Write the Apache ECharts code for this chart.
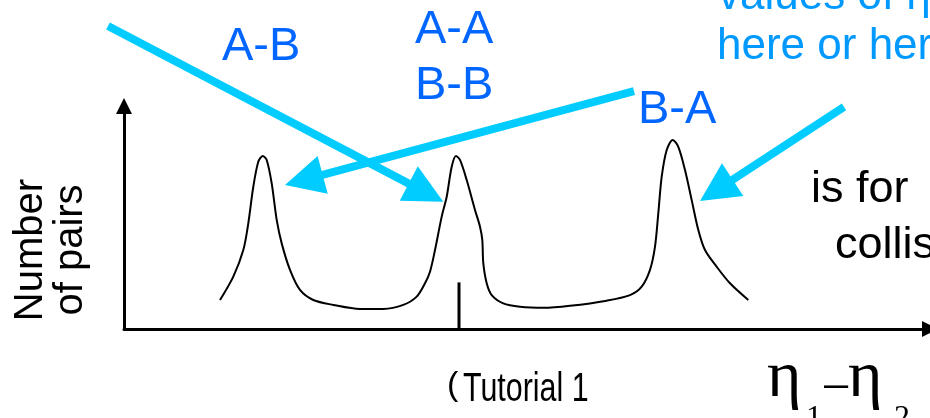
<!DOCTYPE html>
<html>
<head>
<meta charset="utf-8">
<script src="https://cdn.jsdelivr.net/npm/echarts@6/dist/echarts.min.js"></script>
<style>
html,body{margin:0;padding:0;background:#fff;}
#c{width:930px;height:418px;}
</style>
</head>
<body>
<div id="c"></div>
<script>
// ---- data (arbitrary units: x = eta1 - eta2, y = number of pairs) ----
const curveX = [-2.39,-2.257,-2.157,-2.107,-2.057,-2.007,-1.963,-1.923,-1.873,-1.823,-1.773,-1.69,-1.59,-1.457,-1.257,-0.99,-0.757,-0.557,-0.423,-0.34,-0.29,-0.24,-0.173,-0.123,-0.073,-0.03,0.01,0.077,0.16,0.21,0.233,0.243,0.277,0.327,0.443,0.61,0.843,1.11,1.477,1.71,1.827,1.91,1.96,1.993,2.027,2.077,2.137,2.193,2.26,2.327,2.393,2.46,2.577,2.71,2.893];
const curveY = [13.0,23.5,35.4,47.4,63.8,75.0,77.6,75.8,65.3,48.9,38.4,26.5,17.5,13.0,10.8,9.0,9.0,10.8,14.5,20.5,25.7,35.4,50.4,59.3,72.8,77.6,75.8,66.8,53.4,45.9,39.9,29.5,20.5,15.2,11.5,10.0,9.5,10.4,12.7,15.2,19.0,26.5,36.9,51.9,68.3,80.3,84.8,81.7,71.3,57.8,44.4,35.4,27.9,20.5,13.0];
const tickX = [0, 0];
const tickY = [0, 20.9];
const arrowStart = [[-3.51, 135.9], [1.75, 106.7], [3.85, 99.6]];
const arrowTip   = [[-0.157, 57.1], [-1.74, 64.6], [2.41, 57.4]];
const pairLabels = ['A-B', 'A-A', 'B-B', 'B-A'];
const noteLines = ['values of η(', 'here or here'];
const sideLines = ['is for', 'collis'];
const yTitle = ['Number', 'of pairs'];
const xNote = ['(', 'Tutorial 1'];
const xTitle = ['η', '1', '−', 'η', '2'];

const SANS = "'Liberation Sans', Arial, sans-serif";
const SERIF = "'Liberation Serif', 'Times New Roman', serif";
const BLUE = '#0066ff', LBLUE = '#0099ff', CYAN = '#00ccff';
const headLen = 39;

function txt(text, x, y, size, color, opts) {
  opts = opts || {};
  return {
    type: 'text', x: x, y: y, rotation: opts.rotation || 0, scaleX: opts.scaleX || 1, silent: true,
    style: {
      text: text, fill: color, fontSize: size, fontFamily: opts.family || SANS,
      align: opts.align || 'left', verticalAlign: 'middle'
    }
  };
}

const chart = echarts.init(document.getElementById('c'), null, {renderer: 'canvas'});
const hidden = {show: false};
const option = {
  animation: false,
  backgroundColor: '#fff',
  grid: [
    {left: 124, right: 0, top: 106, bottom: 89},
    {left: 0, right: 0, top: 0, bottom: 0}
  ],
  xAxis: [
    {type: 'value', gridIndex: 0, min: -3.35, max: 4.71,
     axisLine: {show: true, onZero: false, lineStyle: {color: '#000', width: 3}, symbol: ['none', 'triangle'], symbolSize: [16, 16]},
     axisTick: hidden, axisLabel: hidden, splitLine: hidden},
    {type: 'value', gridIndex: 1, min: -4.59, max: 4.71, show: false}
  ],
  yAxis: [
    {type: 'value', gridIndex: 0, min: 0, max: 100,
     axisLine: {show: true, onZero: false, lineStyle: {color: '#000', width: 3}, symbol: ['none', 'triangle'], symbolSize: [16, 16]},
     axisTick: hidden, axisLabel: hidden, splitLine: hidden},
    {type: 'value', gridIndex: 1, min: -39.91, max: 147.53, show: false}
  ],
  series: [
    {type: 'line', xAxisIndex: 0, yAxisIndex: 0, data: curveX.map((x, i) => [x, curveY[i]]),
     showSymbol: false, smooth: 0.3, clip: false, silent: true,
     lineStyle: {color: '#000', width: 2}},
    {type: 'line', xAxisIndex: 0, yAxisIndex: 0, data: tickX.map((x, i) => [x, tickY[i]]),
     showSymbol: false, clip: false, silent: true,
     lineStyle: {color: '#000', width: 3}},
    {id: 'arrows', type: 'lines', coordinateSystem: 'cartesian2d', xAxisIndex: 1, yAxisIndex: 1,
     data: arrowStart.map((s, i) => ({coords: [s, arrowTip[i]]})),
     symbol: ['none', 'triangle'], symbolSize: [38, headLen], silent: true,
     lineStyle: {color: CYAN, width: 8, opacity: 1, cap: 'butt'}}
  ],
  graphic: {elements: [
    txt(pairLabels[0], 222, 47, 47, BLUE),
    txt(pairLabels[1], 415, 30.4, 47, BLUE),
    txt(pairLabels[2], 415, 86.4, 47, BLUE),
    txt(pairLabels[3], 638, 110.4, 47, BLUE),
    txt(noteLines[0], 718, -3.5, 44, LBLUE),
    txt(noteLines[1], 717, 46.5, 44, LBLUE),
    txt(sideLines[0], 811, 189.9, 45, '#000'),
    txt(sideLines[1], 835, 246, 45, '#000'),
    txt(yTitle[0], 31, 250, 40, '#000', {rotation: Math.PI / 2, align: 'center'}),
    txt(yTitle[1], 71, 250, 40, '#000', {rotation: Math.PI / 2, align: 'center'}),
    txt(xNote[0], 447, 386, 34, '#000'),
    txt(xNote[1], 463, 390, 40, '#000', {scaleX: 0.76}),
    txt(xTitle[0], 767, 379, 66, '#000', {family: SERIF}),
    txt(xTitle[1], 806, 419, 32, '#000', {family: SERIF}),
    txt(xTitle[2], 836, 390, 52, '#000', {family: SERIF, align: 'center'}),
    txt(xTitle[3], 848, 379, 66, '#000', {family: SERIF}),
    txt(xTitle[4], 894, 419, 32, '#000', {family: SERIF})
  ]}
};
chart.setOption(option);

// place each arrowhead so that its tip lands on the target point
const finder = {gridIndex: 1};
const arrowData = arrowStart.map((s, i) => {
  const p0 = chart.convertToPixel(finder, s);
  const p1 = chart.convertToPixel(finder, arrowTip[i]);
  const dx = p1[0] - p0[0], dy = p1[1] - p0[1], L = Math.hypot(dx, dy);
  const c = [p1[0] - dx / L * headLen / 2, p1[1] - dy / L * headLen / 2];
  return {coords: [s, chart.convertFromPixel(finder, c)]};
});
chart.setOption({series: [{id: 'arrows', data: arrowData}]});
</script>
</body>
</html>
